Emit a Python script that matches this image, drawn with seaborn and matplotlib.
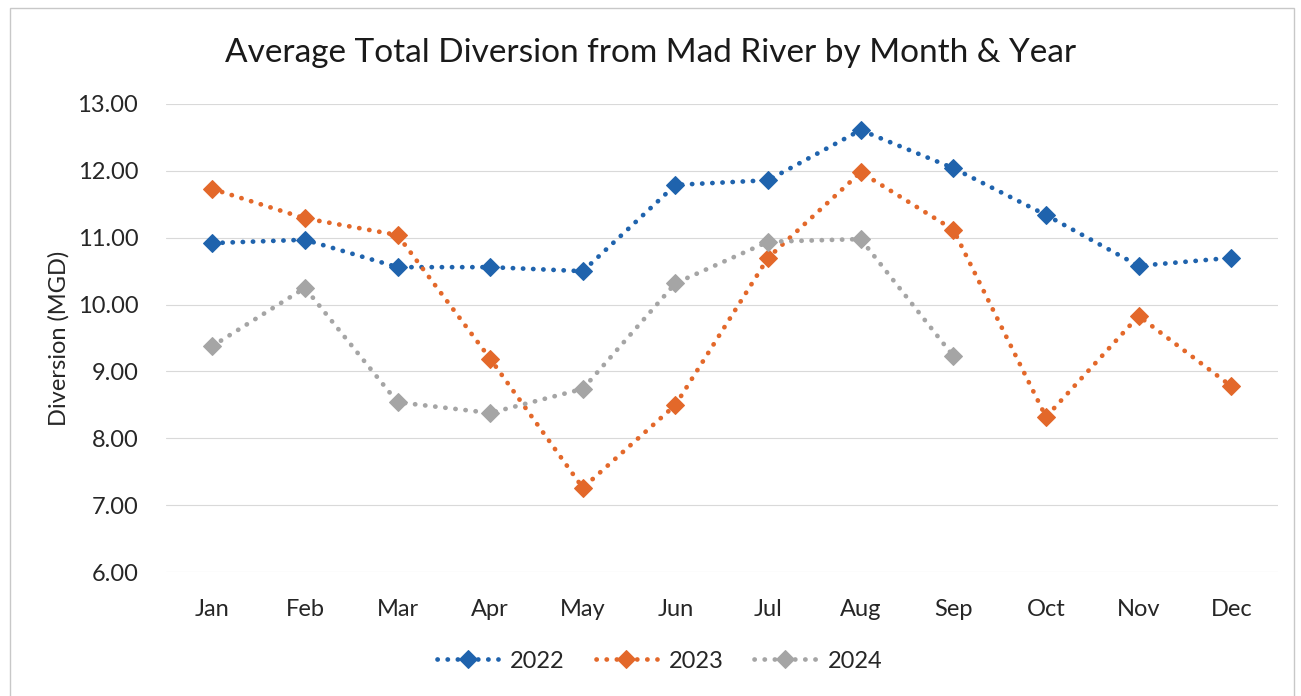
import numpy as np
import pandas as pd
import seaborn as sns
import matplotlib
matplotlib.use("Agg")
import matplotlib.pyplot as plt
from matplotlib.patches import Rectangle

sns.set_style("white")
plt.rcParams['font.family'] = ['Lato', 'DejaVu Sans']

months = ["Jan", "Feb", "Mar", "Apr", "May", "Jun",
          "Jul", "Aug", "Sep", "Oct", "Nov", "Dec"]
y2022 = [10.92, 10.97, 10.56, 10.56, 10.50, 11.79, 11.86, 12.61, 12.04, 11.34, 10.58, 10.70]
y2023 = [11.73, 11.29, 11.04, 9.19, 7.26, 8.50, 10.70, 11.98, 11.12, 8.32, 9.83, 8.78]
y2024 = [9.38, 10.25, 8.54, 8.38, 8.74, 10.32, 10.94, 10.98, 9.23]

series = [("2022", y2022, "#1f63ad"),
          ("2023", y2023, "#e3682a"),
          ("2024", y2024, "#a5a5a5")]

fig = plt.figure(figsize=(13.01, 6.96), dpi=100)
ax = fig.add_axes([0.1276, 0.178, 0.8544, 0.6726])

for name, vals, col in series:
    df = pd.DataFrame({"Month": months[:len(vals)], "MGD": vals})
    sns.lineplot(data=df, x="Month", y="MGD", ax=ax, color=col, label=name,
                 linewidth=3.4, linestyle=(0, (0.05, 2.1)),
                 dash_capstyle="round", marker="D", markersize=9,
                 markeredgecolor=col, sort=False)

ax.set_xlim(-0.5, 11.5)
ax.set_ylim(6, 13)
ax.set_yticks(np.arange(6, 13.01, 1))
ax.set_yticklabels([f"{v:.2f}" for v in np.arange(6, 13.01, 1)])
ax.grid(axis="y", color="#d9d9d9", linewidth=0.8)
ax.set_axisbelow(True)
for s in ax.spines.values():
    s.set_visible(False)
ax.tick_params(axis="both", length=0, labelsize=17, colors="#262626")
ax.tick_params(axis="y", pad=20)
ax.tick_params(axis="x", pad=19)
ax.set_xlabel("")
ax.set_ylabel("Diversion (MGD)", fontsize=17, color="#262626", labelpad=6)

fig.suptitle("Average Total Diversion from Mad River by Month & Year",
             x=0.5, y=0.945, fontsize=24, color="#1a1a1a")

leg = ax.legend(loc="center", bbox_to_anchor=(0.507, 0.05),
                bbox_transform=fig.transFigure, ncol=3, frameon=False,
                fontsize=17, handlelength=2.6, columnspacing=1.3, handletextpad=0.5)

fig.patches.append(Rectangle((10 / 1301, -0.01), 1284 / 1301, 1 - 8 / 696 + 0.01,
                             transform=fig.transFigure, fill=False,
                             edgecolor="#c8c8c8", linewidth=1.0))

fig.savefig("out.png", dpi=100)
